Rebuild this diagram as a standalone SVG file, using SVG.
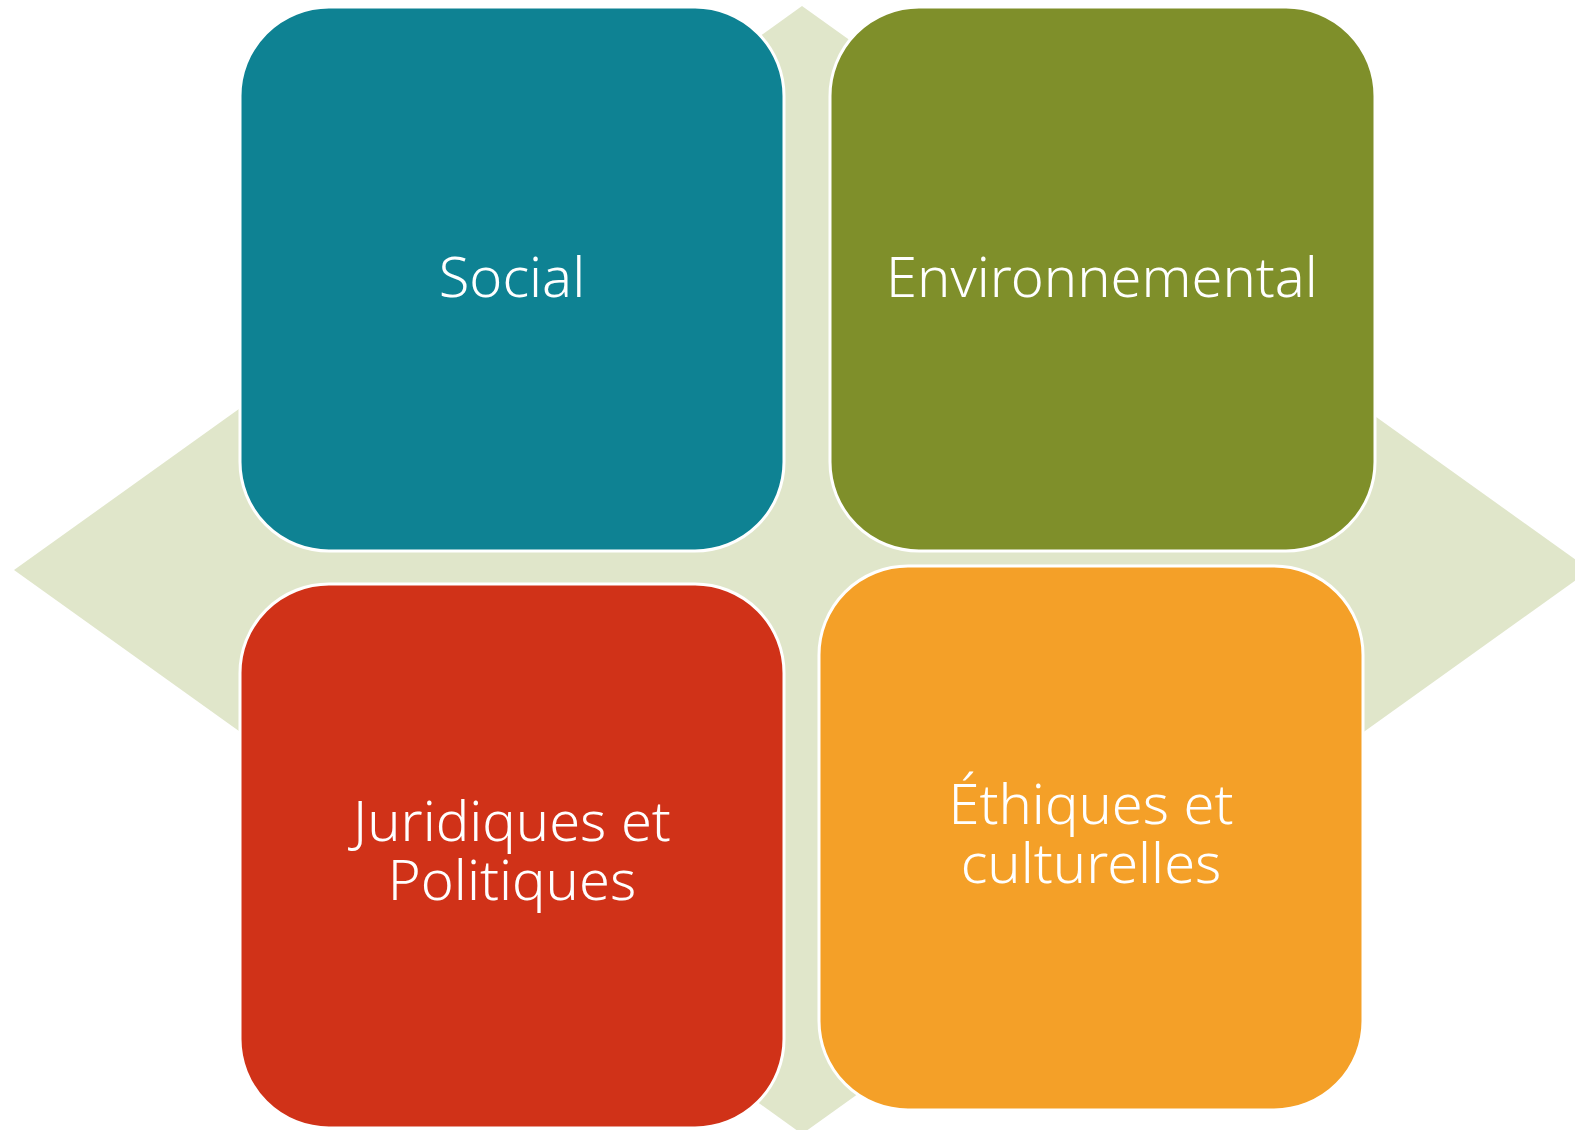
<svg xmlns="http://www.w3.org/2000/svg" width="1575" height="1130" viewBox="0 0 1575 1130">
<style>
.box{stroke:#ffffff;stroke-width:3}
.lbl{font-family:"Noto Sans","DejaVu Sans",sans-serif;font-size:56px;fill:#ffffff;text-anchor:middle;font-weight:300}
</style>
<rect width="1575" height="1130" fill="#ffffff"/>
<g id="background">
<polygon points="802,6 1590,570 802,1134 14,570" fill="#E0E6CA"/>
</g>
<g id="node-social">
<rect class="box" x="240" y="7" width="544" height="544" rx="89" ry="89" fill="#0E8293"/>
<text class="lbl" x="512" y="297">Social</text>
</g>
<g id="node-environnemental">
<rect class="box" x="830" y="7" width="545" height="544" rx="89" ry="89" fill="#7F8F2A"/>
<text class="lbl" x="1102" y="297">Environnemental</text>
</g>
<g id="node-juridiques">
<rect class="box" x="240" y="584" width="544" height="544" rx="89" ry="89" fill="#D03218"/>
<text class="lbl" x="512" y="841">Juridiques et</text>
<text class="lbl" x="512" y="900">Politiques</text>
</g>
<g id="node-ethiques">
<rect class="box" x="819" y="566" width="544" height="544" rx="89" ry="89" fill="#F4A028"/>
<text class="lbl" x="1091" y="824">Éthiques et</text>
<text class="lbl" x="1091" y="883">culturelles</text>
</g>
<g id="connectors"></g>
</svg>
